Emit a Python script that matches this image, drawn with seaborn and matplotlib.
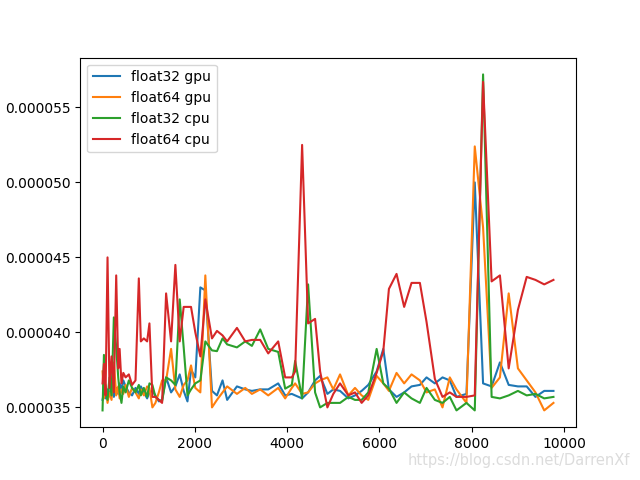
import matplotlib
matplotlib.use("Agg")
import matplotlib.pyplot as plt
from matplotlib.ticker import FormatStrFormatter, MultipleLocator
import seaborn as sns
import pandas as pd

x = [0, 30, 65, 108, 150, 195, 245, 296, 340, 370,
     410, 450, 500, 570, 640, 714, 786, 830, 895, 966,
     1016, 1080, 1146, 1220, 1290, 1377, 1485, 1578, 1672, 1758,
     1840, 1917, 2010, 2119, 2227, 2371, 2479, 2600, 2700, 2912,
     3092, 3236, 3416, 3590, 3806, 3957, 4101, 4173, 4324, 4454,
     4605, 4714, 4872, 5000, 5146, 5326, 5470, 5614, 5758, 5939,
     6083, 6205, 6370, 6535, 6695, 6876, 7020, 7200, 7366, 7524,
     7669, 7885, 8065, 8245, 8430, 8610, 8800, 9000, 9190, 9380,
     9570, 9770]

# values in units of 1e-6
float32_gpu = [35.5, 36.0, 35.6, 36.2, 35.8, 36.5, 35.7, 36.3, 35.9, 36.6,
               36.2, 36.8, 36.4, 36.0, 35.8, 36.3, 35.9, 36.4, 36.0, 35.6,
               36.0, 36.1, 35.8, 35.4, 35.5, 37.0, 36.0, 36.4, 37.2, 36.1,
               35.4, 37.5, 37.0, 43.0, 42.8, 36.1, 35.8, 36.8, 35.5, 36.4,
               36.2, 36.1, 36.2, 36.2, 36.6, 35.8, 35.9, 35.8, 35.6, 36.0,
               36.8, 37.1, 35.9, 36.2, 36.1, 35.6, 35.8, 36.1, 36.5, 37.4,
               38.9, 36.2, 35.7, 36.0, 36.4, 36.5, 37.0, 36.6, 37.0, 36.8,
               35.7, 35.9, 50.0, 36.6, 36.4, 38.0, 36.5, 36.4, 36.4, 35.7,
               36.1, 36.1]

float64_gpu = [37.4, 35.6, 36.5, 35.3, 36.0, 35.5, 38.0, 35.8, 36.4, 35.6,
               36.2, 35.9, 36.5, 35.7, 36.3, 36.0, 35.6, 36.2, 35.8, 36.4,
               36.3, 35.0, 35.3, 36.0, 36.8, 36.8, 38.9, 36.2, 35.7, 36.5,
               36.8, 37.8, 36.3, 36.0, 43.8, 35.0, 35.5, 36.0, 36.4, 35.9,
               36.3, 35.9, 36.2, 35.8, 36.3, 35.6, 36.3, 36.6, 35.9, 36.0,
               36.6, 36.8, 37.0, 36.2, 37.2, 35.8, 36.3, 35.8, 35.5, 37.1,
               36.6, 36.1, 37.3, 36.6, 37.2, 36.8, 36.0, 36.2, 35.0, 37.0,
               36.2, 35.3, 52.4, 47.0, 36.3, 37.0, 42.6, 37.6, 36.8, 36.0,
               34.8, 35.3]

float32_cpu = [34.8, 38.5, 36.0, 35.5, 37.0, 35.8, 41.0, 39.0, 37.0, 36.0,
               35.3, 36.4, 36.0, 36.8, 36.3, 36.0, 36.5, 35.8, 36.3, 35.7,
               36.6, 36.5, 35.7, 35.5, 35.4, 37.0, 36.8, 36.5, 42.2, 39.0,
               35.8, 36.2, 36.6, 36.8, 39.4, 38.8, 38.75, 39.6, 39.2, 39.0,
               39.4, 39.1, 40.2, 38.9, 38.7, 36.25, 36.5, 38.1, 35.6, 43.2,
               36.0, 35.0, 35.3, 35.3, 35.3, 35.7, 35.5, 35.5, 36.0, 38.9,
               36.6, 36.25, 35.3, 36.0, 35.6, 35.3, 36.3, 35.5, 35.3, 35.7,
               34.8, 35.3, 34.8, 57.2, 35.7, 35.6, 35.8, 36.1, 35.8, 35.9,
               35.6, 35.7]

float64_cpu = [36.6, 37.9, 35.8, 45.0, 36.3, 38.4, 36.0, 43.8, 37.6, 38.9,
               36.6, 37.3, 37.0, 37.2, 36.5, 36.8, 43.6, 39.4, 39.6, 39.4,
               40.6, 35.7, 35.7, 35.5, 35.3, 42.6, 39.4, 44.5, 39.4, 41.7,
               41.7, 41.7, 40.0, 38.4, 42.2, 39.6, 40.1, 39.8, 39.4, 40.3,
               39.4, 39.5, 39.5, 38.6, 39.4, 37.0, 37.0, 37.4, 52.5, 40.6,
               40.9, 37.4, 35.0, 35.9, 36.6, 35.8, 36.0, 35.3, 35.8, 37.3,
               38.75, 42.9, 43.9, 41.7, 43.3, 43.3, 40.7, 36.9, 35.7, 36.0,
               35.7, 35.7, 35.8, 56.7, 43.4, 43.8, 37.6, 41.5, 43.7, 43.5,
               43.2, 43.5]

series_names = ["float32 gpu", "float64 gpu", "float32 cpu", "float64 cpu"]
series_vals = [float32_gpu, float64_gpu, float32_cpu, float64_cpu]

rows = []
for name, vals in zip(series_names, series_vals):
    for xv, yv in zip(x, vals):
        rows.append({"size": xv, "time": yv * 1e-6, "series": name})
df = pd.DataFrame(rows)

fig, ax = plt.subplots(figsize=(6.4, 4.8), dpi=100)
sns.lineplot(data=df, x="size", y="time", hue="series", hue_order=series_names,
             palette=["#1f77b4", "#ff7f0e", "#2ca02c", "#d62728"],
             estimator=None, sort=False, linewidth=1.5, ax=ax)
ax.set_xlabel("")
ax.set_ylabel("")
ax.yaxis.set_major_locator(MultipleLocator(5e-6))
ax.yaxis.set_major_formatter(FormatStrFormatter("%.6f"))
ax.legend(loc="upper left")

fig.text(0.985, 0.025, "https://blog.csdn.net/DarrenXf", ha="right", va="bottom",
         color="#dcdcdc", fontsize=10.5)

fig.savefig("out.png", dpi=100)
